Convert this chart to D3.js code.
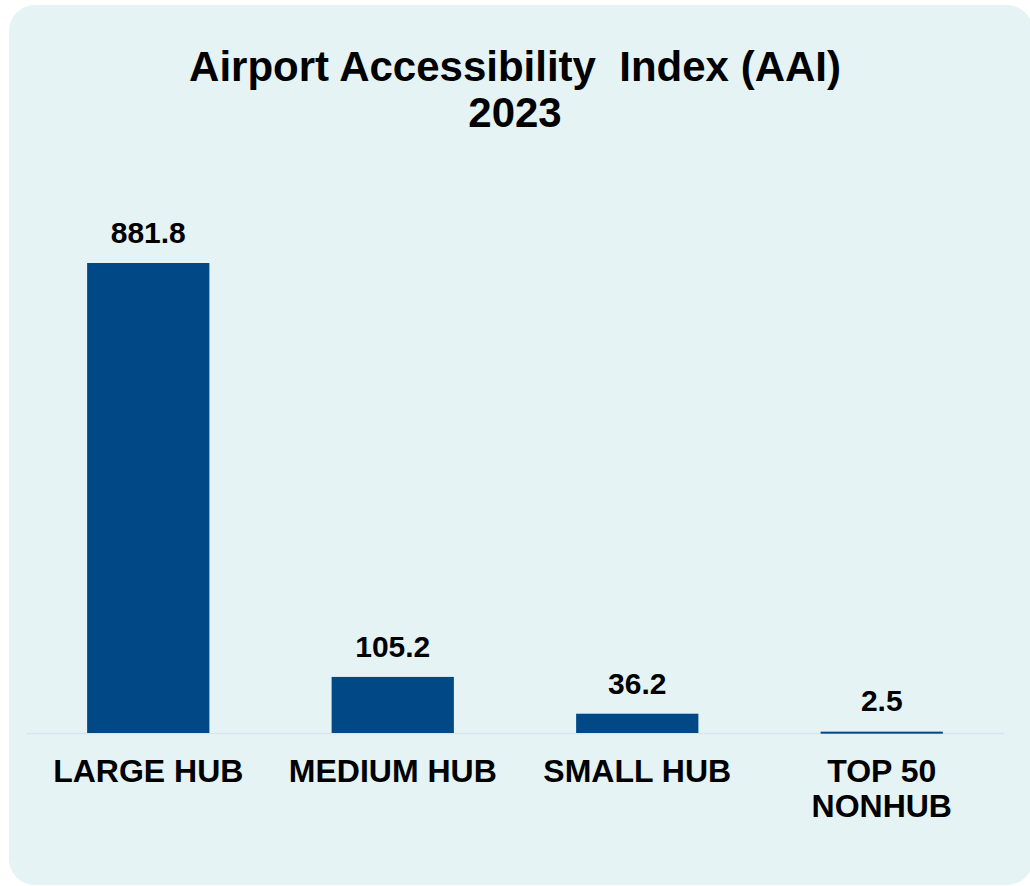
<!DOCTYPE html>
<html>
<head>
<meta charset="utf-8">
<script src="https://cdn.jsdelivr.net/npm/d3@7"></script>
<style>
  html, body { margin: 0; padding: 0; background: #ffffff; }
  svg { display: block; }
  text { font-family: "Liberation Sans", Arial, sans-serif; font-weight: bold; fill: #000; }
</style>
</head>
<body>
<svg id="chart" width="1030" height="886"></svg>
<script>
// Airport Accessibility Index by hub type, 2023
const categories = ["LARGE HUB", "MEDIUM HUB", "SMALL HUB", "TOP 50\nNONHUB"];
const values = [881.8, 105.2, 36.2, 2.5];
const titleLines = ["Airport Accessibility  Index (AAI)", "2023"];

const W = 1030, H = 886;
const svg = d3.select("#chart");

// rounded panel behind the chart
svg.append("rect")
  .attr("x", 9).attr("y", 5)
  .attr("width", 1024).attr("height", 880)
  .attr("rx", 26).attr("ry", 26)
  .attr("fill", "#e5f3f5");

// title
svg.append("g").selectAll("text")
  .data(titleLines)
  .join("text")
  .attr("x", 515)
  .attr("y", (d, i) => 81 + i * 46)
  .attr("text-anchor", "middle")
  .attr("font-size", 42)
  .style("white-space", "pre")
  .text(d => d);

const x = d3.scaleBand()
  .domain(categories)
  .range([26, 1004])
  .paddingInner(0.5)
  .paddingOuter(0.25);

const y = d3.scaleLinear()
  .domain([0, d3.max(values)])
  .range([733, 263]);

const data = categories.map((c, i) => ({ cat: c, val: values[i] }));

// baseline
svg.append("line")
  .attr("x1", 26).attr("x2", 1004)
  .attr("y1", y(0) + 0.5).attr("y2", y(0) + 0.5)
  .attr("stroke", "#d6e6ee").attr("stroke-width", 1.5);

// bars
svg.append("g").selectAll("rect")
  .data(data)
  .join("rect")
  .attr("x", d => x(d.cat))
  .attr("width", x.bandwidth())
  .attr("y", d => y(d.val))
  .attr("height", d => Math.max(y(0) - y(d.val), 2))
  .attr("fill", "#004886");

// value labels
svg.append("g").selectAll("text")
  .data(data)
  .join("text")
  .attr("x", d => x(d.cat) + x.bandwidth() / 2)
  .attr("y", d => Math.min(y(d.val), y(0) - 2) - 20)
  .attr("text-anchor", "middle")
  .attr("font-size", 30)
  .text(d => d.val.toFixed(1));

// category axis labels
const axis = d3.axisBottom(x).tickSize(0).tickPadding(0);
const ag = svg.append("g")
  .attr("transform", `translate(0,${y(0)})`)
  .call(axis);
ag.select(".domain").remove();
ag.selectAll(".tick text").each(function(d) {
  const t = d3.select(this);
  const lines = d.split("\n");
  t.text(null)
    .attr("y", 0)
    .attr("dy", null)
    .attr("font-size", 32)
    .attr("font-family", null)
    .attr("fill", "#000");
  lines.forEach((ln, i) => {
    t.append("tspan")
      .attr("x", 0)
      .attr("y", 49 + i * 35)
      .text(ln);
  });
});
ag.attr("font-family", null).attr("font-size", null);
</script>
</body>
</html>
